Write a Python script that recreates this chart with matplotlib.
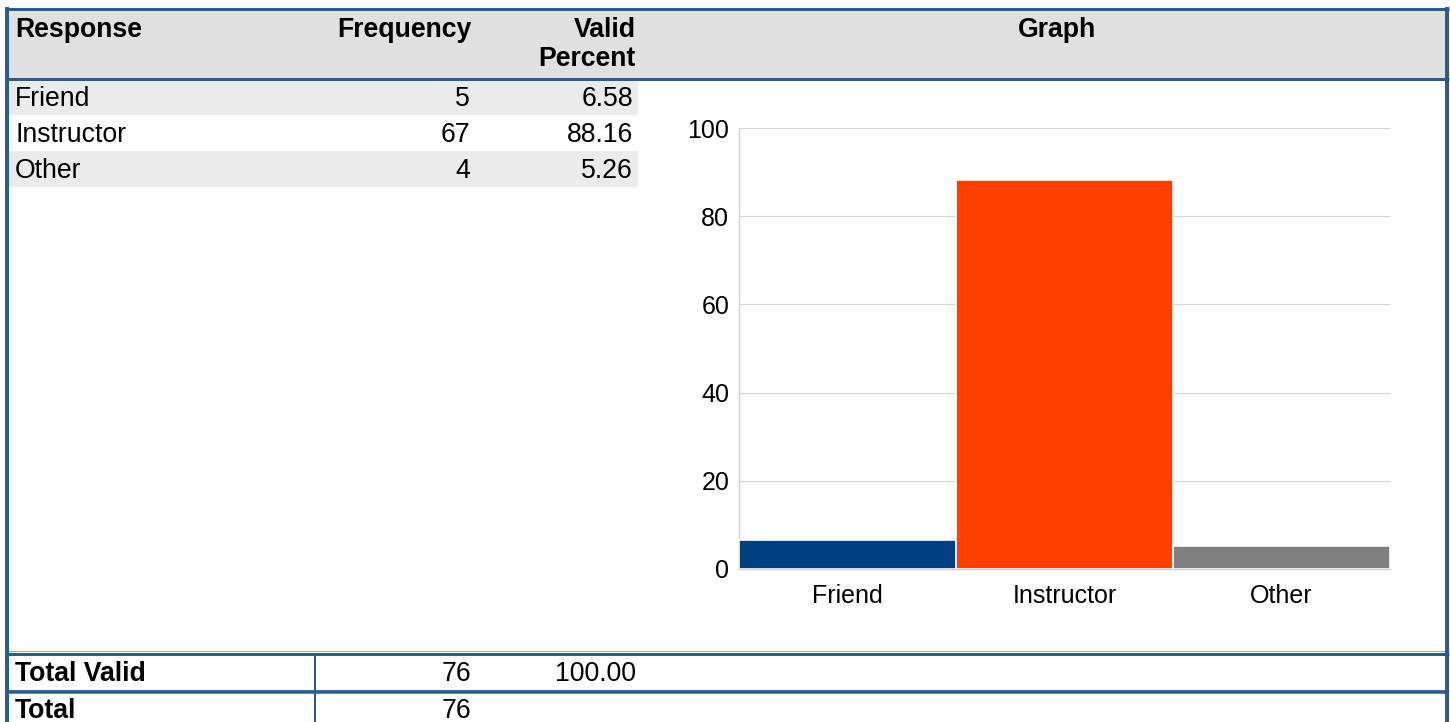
import matplotlib
matplotlib.use("Agg")
import matplotlib.pyplot as plt
from matplotlib.patches import Rectangle

plt.rcParams['font.family'] = ['Liberation Sans', 'DejaVu Sans']

# ---- data ----
responses = ["Friend", "Instructor", "Other"]
frequencies = [5, 67, 4]
valid_percents = [6.58, 88.16, 5.26]
percent_labels = ["6.58", "88.16", "5.26"]
total_valid = 76
total_valid_pct = "100.00"
total = 76
bar_colors = ["#004080", "#ff4000", "#808080"]
yticks = [0, 20, 40, 60, 80, 100]

W, H = 1450, 722
fig = plt.figure(figsize=(W / 100, H / 100), dpi=100)
fig.patch.set_facecolor("white")

# ---- table layer in pixel coordinates ----
tab = fig.add_axes([0, 0, 1, 1])
tab.set_xlim(0, W)
tab.set_ylim(H, 0)
tab.axis("off")

BLUE = "#2c5d8a"
LIGHT = "#8eaac5"
FS = 19.2
CFS = 18
px = 0.72  # points per pixel

# header background
tab.add_patch(Rectangle((9, 9), 1436, 69, facecolor="#e0e0e0", edgecolor="none", zorder=0))
# striped rows
tab.add_patch(Rectangle((9, 81), 629, 34, facecolor="#ebebeb", edgecolor="none", zorder=0))
tab.add_patch(Rectangle((9, 151), 629, 36, facecolor="#ebebeb", edgecolor="none", zorder=0))

# border lines
tab.plot([5, 1449], [8.5, 8.5], color=BLUE, lw=3 * px, solid_capstyle="butt")
tab.plot([5, 1449], [79, 79], color=BLUE, lw=3 * px, solid_capstyle="butt")
tab.plot([5, 1449], [651, 651], color=LIGHT, lw=1 * px, solid_capstyle="butt")
tab.plot([5, 1449], [653.5, 653.5], color=BLUE, lw=3 * px, solid_capstyle="butt")
tab.plot([5, 1449], [689.5, 689.5], color=LIGHT, lw=1 * px, solid_capstyle="butt")
tab.plot([5, 1449], [692, 692], color=BLUE, lw=3.5 * px, solid_capstyle="butt")
tab.plot([7, 7], [7, H], color=BLUE, lw=4 * px, solid_capstyle="butt")
tab.plot([1447, 1447], [7, H], color=BLUE, lw=4 * px, solid_capstyle="butt")
tab.plot([315.5, 315.5], [654, H], color=BLUE, lw=2 * px, solid_capstyle="butt")

# header text
tab.text(15, 37, "Response", fontsize=FS, fontweight="bold", ha="left", va="baseline")
tab.text(472, 37, "Frequency", fontsize=FS, fontweight="bold", ha="right", va="baseline")
tab.text(636, 37, "Valid", fontsize=FS, fontweight="bold", ha="right", va="baseline")
tab.text(636, 66, "Percent", fontsize=FS, fontweight="bold", ha="right", va="baseline")
tab.text(1057, 37, "Graph", fontsize=FS, fontweight="bold", ha="center", va="baseline")

# data rows
row_base = [106, 142, 178]
for r, f, p, yb in zip(responses, frequencies, percent_labels, row_base):
    tab.text(15, yb, r, fontsize=FS, ha="left", va="baseline")
    tab.text(470, yb, str(f), fontsize=FS, ha="right", va="baseline")
    tab.text(633, yb, p, fontsize=FS, ha="right", va="baseline")

# totals
tab.text(15, 681, "Total Valid", fontsize=FS, fontweight="bold", ha="left", va="baseline")
tab.text(471, 681, str(total_valid), fontsize=FS, ha="right", va="baseline")
tab.text(636, 681, total_valid_pct, fontsize=FS, ha="right", va="baseline")
tab.text(15, 718, "Total", fontsize=FS, fontweight="bold", ha="left", va="baseline")
tab.text(471, 718, str(total), fontsize=FS, ha="right", va="baseline")

# ---- chart ----
x0, x1, ytop, ybot = 739, 1390, 128, 569
ax = fig.add_axes([x0 / W, (H - ybot) / H, (x1 - x0) / W, (ybot - ytop) / H])
ax.set_facecolor("none")
ax.bar(range(len(responses)), valid_percents, width=1.0, color=bar_colors,
       edgecolor="white", linewidth=1.2, zorder=3)
ax.set_xlim(-0.5, len(responses) - 0.5)
ax.set_ylim(0, 100)
ax.set_yticks(yticks)
ax.set_yticklabels([str(t) for t in yticks])
ax.set_xticks(range(len(responses)))
ax.set_xticklabels(responses)
ax.yaxis.grid(True, color="#d4d4d4", lw=0.8)
ax.set_axisbelow(True)
for s in ["top", "right"]:
    ax.spines[s].set_visible(False)
for s in ["left", "bottom"]:
    ax.spines[s].set_color("#d0d0d0")
    ax.spines[s].set_linewidth(1.0)
ax.tick_params(axis="both", length=0, labelsize=CFS)
ax.tick_params(axis="y", pad=7)
ax.tick_params(axis="x", pad=11)

fig.savefig("out.png", dpi=100, facecolor="white")
